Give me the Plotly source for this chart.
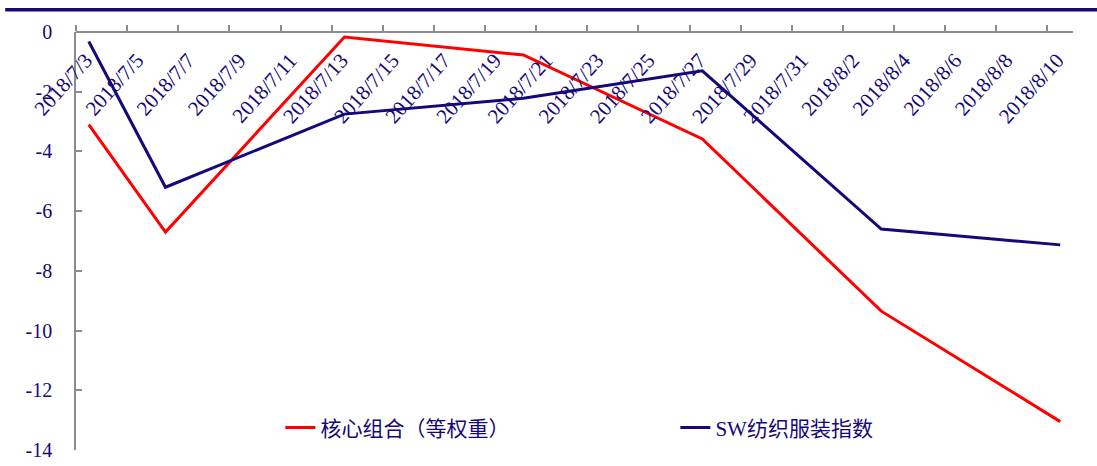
import plotly.graph_objects as go

dates = ["2018-07-03", "2018-07-06", "2018-07-13", "2018-07-20",
         "2018-07-27", "2018-08-03", "2018-08-10"]
core_portfolio = [-3.1, -6.7, -0.17, -0.77, -3.58, -9.35, -13.05]
sw_textile = [-0.32, -5.2, -2.75, -2.22, -1.3, -6.6, -7.13]

tick_dates = ["2018-07-03", "2018-07-05", "2018-07-07", "2018-07-09", "2018-07-11",
              "2018-07-13", "2018-07-15", "2018-07-17", "2018-07-19", "2018-07-21",
              "2018-07-23", "2018-07-25", "2018-07-27", "2018-07-29", "2018-07-31",
              "2018-08-02", "2018-08-04", "2018-08-06", "2018-08-08", "2018-08-10"]
tick_labels = ["2018/7/3", "2018/7/5", "2018/7/7", "2018/7/9", "2018/7/11",
               "2018/7/13", "2018/7/15", "2018/7/17", "2018/7/19", "2018/7/21",
               "2018/7/23", "2018/7/25", "2018/7/27", "2018/7/29", "2018/7/31",
               "2018/8/2", "2018/8/4", "2018/8/6", "2018/8/8", "2018/8/10"]
y_ticks = [0, -2, -4, -6, -8, -10, -12, -14]
y_tick_labels = ["0", "-2", "-4", "-6", "-8", "-10", "-12", "-14"]

NAVY = "#14087a"
GRAY = "#8c8c8c"
FONT = "Liberation Serif, Noto Sans CJK SC, serif"

fig = go.Figure()
fig.add_trace(go.Scatter(x=dates, y=core_portfolio, mode="lines",
                         name="核心组合（等权重）",
                         line=dict(color="#ff0000", width=3)))
fig.add_trace(go.Scatter(x=dates, y=sw_textile, mode="lines",
                         name="SW纺织服装指数",
                         line=dict(color=NAVY, width=3)))

fig.update_layout(
    width=1097, height=466,
    margin=dict(l=76, r=24, t=32, b=16),
    paper_bgcolor="white", plot_bgcolor="white",
    font=dict(family=FONT, color=NAVY, size=20),
    xaxis=dict(
        type="date",
        range=["2018-07-02 12:00", "2018-08-10 12:00"],
        anchor="free", position=1, side="bottom",
        tickmode="array", tickvals=tick_dates, ticktext=tick_labels,
        tickangle=-48, ticks="",
        tickfont=dict(family=FONT, size=21, color=NAVY),
        showline=True, linecolor=GRAY, linewidth=1.5,
        showgrid=False, zeroline=False, automargin=False,
        ticklabelstandoff=7, ticklabelshift=-3,
        minor=dict(tickmode="linear", tick0="2018-07-02 12:00",
                   dtick=2 * 86400000, ticks="inside", ticklen=6,
                   tickcolor=GRAY, tickwidth=1.5, showgrid=False),
    ),
    yaxis=dict(
        range=[-14, 0], tickmode="array", tickvals=y_ticks, ticktext=y_tick_labels,
        ticks="inside", ticklen=6, tickcolor=GRAY, tickwidth=1.5,
        showline=True, linecolor=GRAY, linewidth=1.5,
        showgrid=False, zeroline=False, automargin=False,
        tickfont=dict(family=FONT, size=20, color=NAVY),
        ticklabelstandoff=18,
    ),
    legend=dict(
        orientation="h", x=0.205, xanchor="left", y=0.053, yanchor="middle",
        font=dict(family=FONT, size=21, color=NAVY),
        entrywidth=350, entrywidthmode="pixels",
        bgcolor="rgba(0,0,0,0)",
    ),
    shapes=[dict(type="line", xref="paper", yref="paper",
                 x0=-0.071, x1=1.03, y0=1.053, y1=1.053,
                 line=dict(color=NAVY, width=3.5))],
)

fig.write_html("out.html", config={"displayModeBar": False},
               post_script="document.body.style.margin='0';")
